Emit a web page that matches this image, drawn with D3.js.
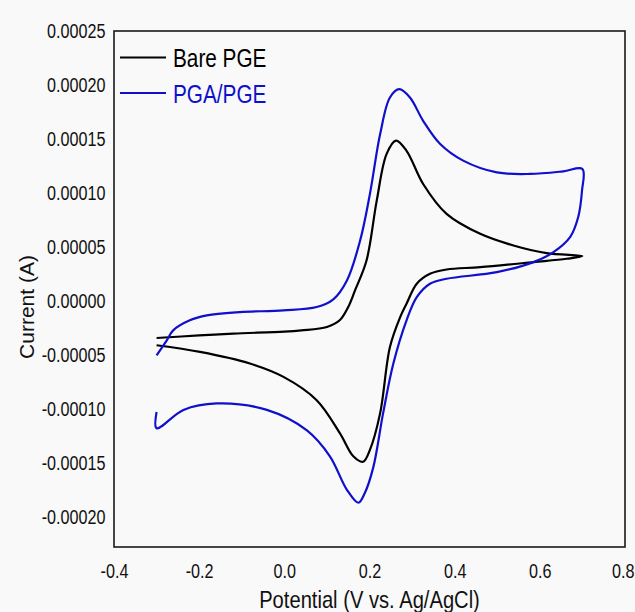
<!DOCTYPE html>
<html>
<head>
<meta charset="utf-8">
<script src="https://cdn.jsdelivr.net/npm/d3@7"></script>
<style>
  html, body { margin: 0; padding: 0; background: #f9f9f9; }
  svg { display: block; font-family: Arial, "Liberation Sans", sans-serif; }
</style>
</head>
<body>
<div id="chart"></div>
<script>
// potential (V) and current (x1e-5 A), one scan -0.3 -> 0.7 -> -0.3
var bareV = [-0.30, -0.20, -0.12, 0.00, 0.04, 0.10, 0.13, 0.15, 0.166, 0.193, 0.217, 0.240, 0.262, 0.287, 0.326, 0.381, 0.460, 0.538, 0.616, 0.700,
             0.663, 0.585, 0.460, 0.381, 0.342, 0.311, 0.287, 0.272, 0.248, 0.225, 0.201, 0.185, 0.162, 0.131, 0.076, -0.002, -0.081, -0.198, -0.30];
var bareI = [-3.44, -3.20, -3.03, -2.85, -2.73, -2.42, -1.80, -0.57, 0.97, 3.74, 9.29, 13.6, 14.85, 13.9, 10.83, 8.06, 6.21, 5.13, 4.42, 4.15,
             3.90, 3.59, 3.12, 2.91, 2.51, 1.59, -0.26, -1.5, -4.27, -10.4, -13.8, -14.9, -14.4, -12.3, -9.2, -7.04, -5.80, -4.73, -4.11];
var pgaV = [-0.30, -0.276, -0.261, -0.222, -0.182, -0.104, -0.002, 0.076, 0.115, 0.147, 0.178, 0.201, 0.225, 0.248, 0.270, 0.295, 0.326, 0.366, 0.420, 0.499, 0.577, 0.655, 0.700,
            0.699, 0.690, 0.671, 0.632, 0.585, 0.499, 0.381, 0.342, 0.311, 0.287, 0.256, 0.232, 0.209, 0.189, 0.174, 0.147, 0.107, 0.053, -0.041, -0.159, -0.237, -0.30, -0.30];
var pgaI = [-5.04, -3.65, -2.73, -1.80, -1.34, -1.04, -0.88, -0.57, 0.14, 1.89, 5.59, 9.91, 15.45, 18.84, 19.61, 18.84, 16.68, 14.53, 12.99, 11.90, 11.76, 12.0, 12.22,
            10.2, 7.74, 5.90, 4.51, 3.59, 2.66, 2.05, 1.59, 0.35, -1.80, -5.80, -10.4, -15.4, -17.8, -18.7, -17.5, -14.4, -12.0, -10.1, -9.5, -10.1, -11.8, -10.3];

var seriesNames = ["Bare PGE", "PGA/PGE"];
var seriesColors = ["#000000", "#0f0fcc"];

var xTicks = [-0.4, -0.2, 0.0, 0.2, 0.4, 0.6, 0.8];
var xTickLabels = ["-0.4", "-0.2", "0.0", "0.2", "0.4", "0.6", "0.8"];
var yTicks = [0.00025, 0.00020, 0.00015, 0.00010, 0.00005, 0, -0.00005, -0.00010, -0.00015, -0.00020];
var yTickLabels = ["0.00025", "0.00020", "0.00015", "0.00010", "0.00005", "0.00000", "-0.00005", "-0.00010", "-0.00015", "-0.00020"];

var margin = {top: 31, left: 114},
    width = 511,
    height = 516;

var svg = d3.select("#chart").append("svg")
    .attr("width", 635)
    .attr("height", 612);

svg.append("rect")
    .attr("width", 635).attr("height", 612)
    .attr("fill", "#f9f9f9");

var g = svg.append("g")
    .attr("transform", "translate(" + margin.left + "," + margin.top + ")");

var x = d3.scaleLinear().domain([-0.4, 0.8]).range([0, width]);
var y = d3.scaleLinear().domain([-0.000228, 0.00025]).range([height, 0]);

function toPoints(vs, is) {
  return vs.map(function(v, i) { return {v: v, i: is[i] * 1e-5}; });
}
var series = [toPoints(bareV, bareI), toPoints(pgaV, pgaI)];

var line = d3.line()
    .x(function(d) { return x(d.v); })
    .y(function(d) { return y(d.i); })
    .curve(d3.curveCatmullRom.alpha(0.5));

// axes (labels only, no tick marks)
var xAxis = g.append("g")
    .attr("transform", "translate(0," + height + ")")
    .call(d3.axisBottom(x).tickValues(xTicks).tickSize(0).tickPadding(16)
      .tickFormat(function(d, i) { return xTickLabels[i]; }));
xAxis.select(".domain").remove();
xAxis.selectAll("text")
    .attr("font-size", 21)
    .attr("fill", "#111")
    .attr("transform", "scale(0.77,1)");
// last label sits against the right edge
xAxis.selectAll(".tick:last-of-type text")
    .attr("text-anchor", "end")
    .attr("x", 9 / 0.77);

var yAxis = g.append("g")
    .call(d3.axisLeft(y).tickValues(yTicks).tickSize(0)
      .tickFormat(function(d, i) { return yTickLabels[i]; }));
yAxis.select(".domain").remove();
yAxis.selectAll("text")
    .attr("font-size", 21)
    .attr("fill", "#111")
    .attr("x", -8.5 / 0.77)
    .attr("transform", "scale(0.77,1)");

g.selectAll(".cv")
    .data(series)
  .enter().append("path")
    .attr("class", "cv")
    .attr("fill", "none")
    .attr("stroke", function(d, i) { return seriesColors[i]; })
    .attr("stroke-width", 2.2)
    .attr("stroke-linejoin", "round")
    .attr("d", line);

// frame
g.append("rect")
    .attr("width", width)
    .attr("height", height)
    .attr("fill", "none")
    .attr("stroke", "#1a1a1a")
    .attr("stroke-width", 1.6);

// legend
var legend = g.selectAll(".legend")
    .data(seriesNames)
  .enter().append("g")
    .attr("class", "legend")
    .attr("transform", function(d, i) { return "translate(6," + (26.5 + i * 35.5) + ")"; });
legend.append("line")
    .attr("x1", 0).attr("x2", 46)
    .attr("stroke", function(d, i) { return seriesColors[i]; })
    .attr("stroke-width", 2);
legend.append("text")
    .attr("transform", "translate(53,9.5) scale(0.83,1)")
    .attr("font-size", 25)
    .attr("fill", function(d, i) { return seriesColors[i]; })
    .text(function(d) { return d; });

// axis titles
svg.append("text")
    .attr("transform", "translate(" + (margin.left + width / 2) + ",608) scale(0.84,1)")
    .attr("text-anchor", "middle")
    .attr("font-size", 24)
    .attr("fill", "#111")
    .text("Potential (V vs. Ag/AgCl)");

svg.append("text")
    .attr("transform", "translate(33.5,307) rotate(-90)")
    .attr("text-anchor", "middle")
    .attr("font-size", 21)
    .attr("fill", "#111")
    .text("Current (A)");
</script>
</body>
</html>
